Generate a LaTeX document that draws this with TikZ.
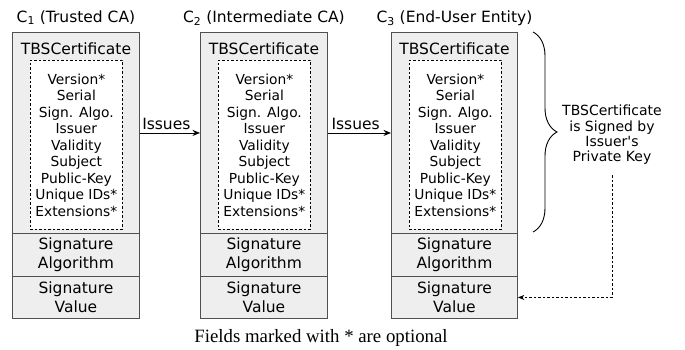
\documentclass[tikz,border=0pt]{standalone}
\usepackage{fontspec}
\setmainfont{Liberation Serif}
\setsansfont{DejaVu Sans}
\usetikzlibrary{arrows.meta,decorations.pathreplacing,calc}
\definecolor{boxfill}{HTML}{EEEEEE}
\definecolor{boxborder}{HTML}{505050}
\begin{document}
\begin{tikzpicture}[x=1pt,y=1pt,
  part/.style={draw=boxborder, fill=boxfill, line width=0.9pt, inner sep=0pt, anchor=north west},
  inner/.style={draw=black, fill=white, line width=0.7pt, dash pattern=on 2.5pt off 2pt, inner sep=0pt, anchor=north west, minimum width=92pt, minimum height=169pt},
  lbl/.style={font=\sffamily\fontsize{15.5}{19}\selectfont, align=center, inner sep=0pt},
  fields/.style={font=\sffamily\fontsize{13.8}{16.5}\selectfont, align=center, inner sep=0pt},
  title/.style={font=\sffamily\fontsize{15.5}{19}\selectfont, anchor=base, inner sep=0pt},
  conn/.style={line width=0.9pt, -{Stealth[length=7.5pt,width=6pt]}},
  issue/.style={font=\sffamily\fontsize{15.5}{19}\selectfont, above=2pt, inner sep=1pt, pos=0.44}]
\useasboundingbox (0,0) rectangle (685,-349);
\foreach \i/\L/\W/\t in {1/12/127/Trusted CA, 2/200/127/Intermediate CA, 3/391/126/End-User Entity}{
  \node[part, minimum width=\W pt, minimum height=201pt] (tbs\i) at (\L,-32) {};
  \node[part, minimum width=\W pt, minimum height=43pt] (sa\i) at (\L,-233) {};
  \node[part, minimum width=\W pt, minimum height=42pt] (sv\i) at (\L,-276) {};
  \node[inner] (in\i) at (\L+18,-60) {};
  \node[lbl, anchor=center] (tl\i) at ($(tbs\i.north)+(0,-17)$) {TBSCertificate};
  \node[lbl] (sal\i) at (sa\i.center) {Signature\\Algorithm};
  \node[lbl] (svl\i) at (sv\i.center) {Signature\\Value};
  \node[fields] (f\i) at (in\i.center) {Version*\\Serial\\Sign. Algo.\\Issuer\\Validity\\Subject\\Public-Key\\Unique IDs*\\Extensions*};
  \node[title] (t\i) at ($(tbs\i.north)+(0,10)$) {C\textsubscript{\i} (\t)};
}
\draw[conn] (tbs1.east) -- node[issue] {Issues} (tbs2.west);
\draw[conn] (tbs2.east) -- node[issue] {Issues} (tbs3.west);
\coordinate (bt) at (533,-32);
\coordinate (bb) at (533,-232);
\draw[line width=0.9pt, decorate, decoration={brace, amplitude=24pt}] (bt) -- (bb);
\node[font=\sffamily\fontsize{14}{15.3}\selectfont, align=center, inner sep=0pt, minimum height=80pt] (note) at (612,-135) {TBSCertificate\\is Signed by\\Issuer\textquotesingle s\\Private Key};
\draw[line width=0.7pt, dash pattern=on 2.5pt off 2pt, -{Stealth[length=6.5pt,width=5pt]}] (note.south) |- (sv3.east);
\node[font=\rmfamily\fontsize{18.8}{22}\selectfont, inner sep=0pt, anchor=base] (cap) at (321,-342) {Fields marked with * are optional};
\end{tikzpicture}
\end{document}
